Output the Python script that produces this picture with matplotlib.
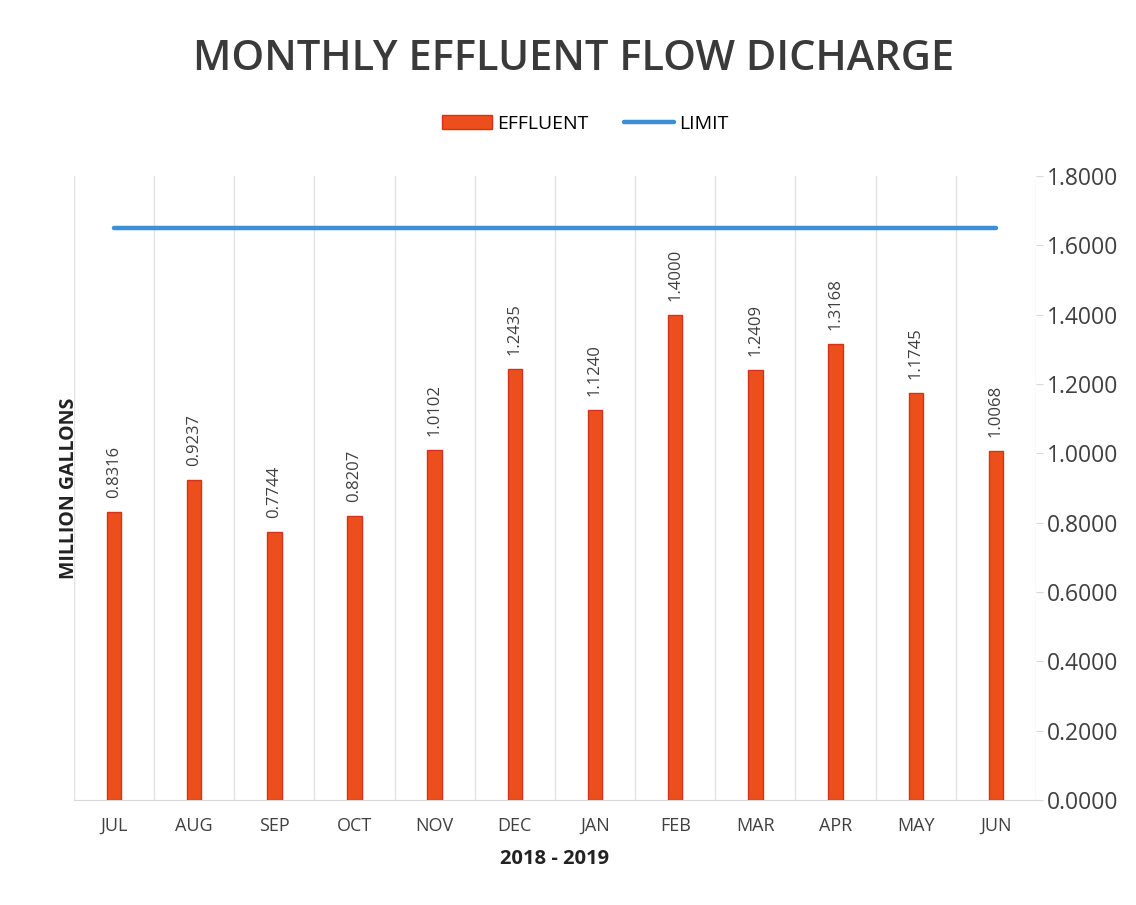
import matplotlib
matplotlib.use("Agg")
import matplotlib.pyplot as plt
import numpy as np

months = ["JUL", "AUG", "SEP", "OCT", "NOV", "DEC", "JAN", "FEB", "MAR", "APR", "MAY", "JUN"]
effluent = [0.8316, 0.9237, 0.7744, 0.8207, 1.0102, 1.2435, 1.1240, 1.4000, 1.2409, 1.3168, 1.1745, 1.0068]
limit = [1.65] * 12
yticks = [0.0, 0.2, 0.4, 0.6, 0.8, 1.0, 1.2, 1.4, 1.6, 1.8]

plt.rcParams['font.family'] = ['Open Sans', 'DejaVu Sans']

fig = plt.figure(figsize=(11.36, 9.05), dpi=100)
ax = fig.add_axes([0.065, 0.116, 0.847, 0.6895])

x = np.arange(len(months))
bars = ax.bar(x, effluent, width=0.18, color='#EC4E1C', edgecolor='#D9301A', linewidth=1.0,
              label='EFFLUENT', zorder=3)
line, = ax.plot(x, limit, color='#3A8FD6', linewidth=3.2, label='LIMIT', zorder=4,
                solid_capstyle='round')

for xi, v in zip(x, effluent):
    ax.annotate(f"{v:.4f}", (xi, v), xytext=(0, 10), textcoords='offset points',
                rotation=90, ha='center', va='bottom', fontsize=12, color='#404040')

ax.set_xlim(-0.5, len(months) - 0.5)
ax.set_ylim(0, 1.8)
ax.yaxis.tick_right()
ax.set_yticks(yticks)
ax.set_yticklabels([f"{t:.4f}" for t in yticks], fontsize=16.5, color='#404040')
ax.tick_params(axis='y', length=5, color='#d9d9d9', pad=3)
ax.set_xticks(x)
ax.set_xticklabels(months, fontsize=13, color='#404040')
ax.tick_params(axis='x', length=0, pad=12)

# vertical gridlines at category boundaries
ax.set_xticks(np.arange(-0.5, len(months)), minor=True)
ax.tick_params(axis='x', which='minor', length=0)
ax.grid(True, axis='x', which='minor', color='#e3e3e3', linewidth=1.0, zorder=0)
ax.grid(False, axis='x', which='major')

for s in ['top', 'left', 'right']:
    ax.spines[s].set_visible(False)
ax.spines['bottom'].set_color('#d9d9d9')

ax.set_ylabel("MILLION GALLONS", fontsize=14, fontweight='bold', color='#222222')
ax.yaxis.set_label_position('left')
ax.yaxis.labelpad = -4
ax.set_xlabel("2018 - 2019", fontsize=14.5, fontweight='bold', color='#222222', labelpad=10)

fig.text(0.505, 0.935, "MONTHLY EFFLUENT FLOW DICHARGE", ha='center', va='center',
         fontsize=30, fontweight='semibold', color='#3a3a3a')
fig.legend([bars, line], ['EFFLUENT', 'LIMIT'], loc='center', bbox_to_anchor=(0.515, 0.863),
           ncol=2, frameon=False, fontsize=14, handlelength=2.6, columnspacing=1.8,
           handletextpad=0.25)

fig.savefig("out.png", dpi=100)
